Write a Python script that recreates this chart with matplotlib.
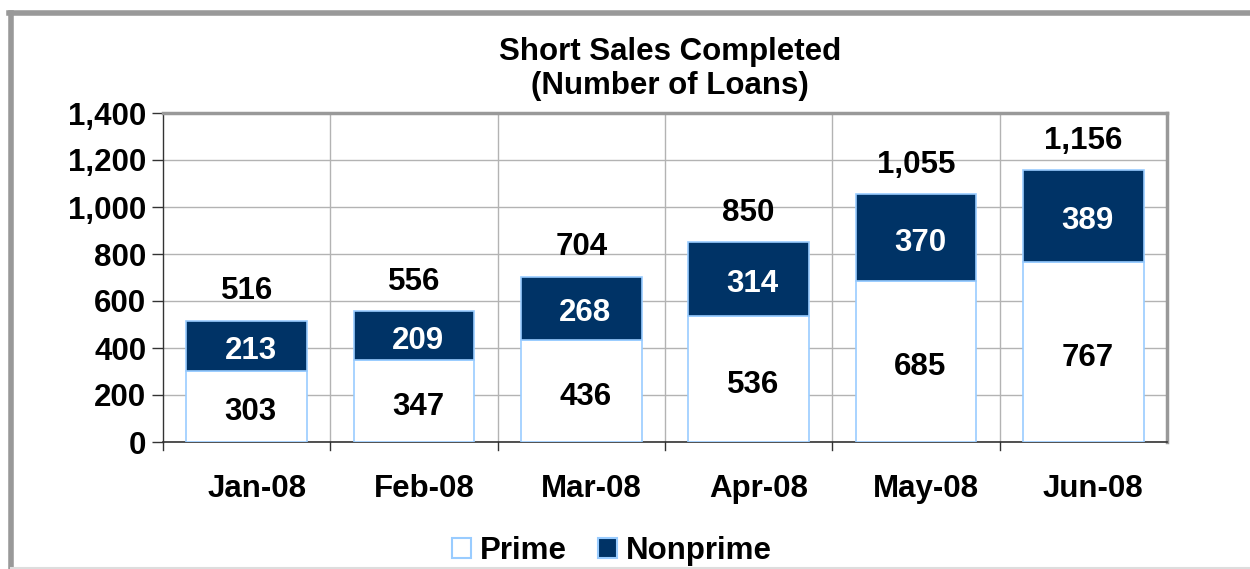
import matplotlib
matplotlib.use('Agg')
import matplotlib.pyplot as plt
from matplotlib.patches import Patch
from matplotlib.lines import Line2D
from matplotlib.transforms import ScaledTranslation
import numpy as np

months = ['Jan-08', 'Feb-08', 'Mar-08', 'Apr-08', 'May-08', 'Jun-08']
prime = [303, 347, 436, 536, 685, 767]
nonprime = [213, 209, 268, 314, 370, 389]
totals = [516, 556, 704, 850, 1055, 1156]
yticks = [0, 200, 400, 600, 800, 1000, 1200, 1400]

navy = '#003366'
edge = '#99ccff'
fs = 22.5

plt.rcParams['font.family'] = ['Liberation Sans', 'DejaVu Sans']
plt.rcParams['font.weight'] = 'bold'

fig = plt.figure(figsize=(12.5, 5.69), dpi=100)
W, H = 1250, 569
ax = fig.add_axes([163 / W, 1 - 442 / H, (1167 - 163) / W, (442 - 113) / H])

x = np.arange(len(months))
ax.bar(x, prime, width=0.72, color='white', edgecolor=edge, linewidth=1.2, zorder=3)
ax.bar(x, nonprime, width=0.72, bottom=prime, color=navy, edgecolor=edge, linewidth=1.2, zorder=3)

# labels inside bars sit a few pixels right of centre in the original
shift = ax.transData + ScaledTranslation(4 / 100, 0, fig.dpi_scale_trans)
for i in range(len(months)):
    ax.text(x[i], prime[i] / 2 - 25, f'{prime[i]:,}', ha='center', va='center',
            fontsize=fs, fontweight='bold', color='black', zorder=4, transform=shift)
    ax.text(x[i], prime[i] + nonprime[i] / 2 - 22, f'{nonprime[i]:,}', ha='center', va='center',
            fontsize=fs, fontweight='bold', color='white', zorder=4, transform=shift)
    ax.text(x[i], totals[i] + 125, f'{totals[i]:,}', ha='center', va='center',
            fontsize=fs, fontweight='bold', color='black', zorder=4)

ax.set_xlim(-0.5, len(months) - 0.5)
ax.set_ylim(0, 1400)
ax.set_yticks(yticks)
ax.set_yticklabels([f'{v:,}' for v in yticks], fontsize=fs, fontweight='bold')
ax.set_xticks(x)
ax.set_xticklabels(months, fontsize=fs, fontweight='bold')
ax.tick_params(axis='x', length=0, pad=23)
ax.tick_params(axis='y', length=8, width=1, color='#333333', pad=4, direction='out')
for lab in ax.get_xticklabels():
    lab.set_transform(lab.get_transform() + ScaledTranslation(10 / 100, 0, fig.dpi_scale_trans))

# category boundaries: vertical grid and downward ticks
bounds = np.arange(-0.5, len(months) + 0.5)
for b in bounds[1:-1]:
    ax.axvline(b, color='#b3b3b3', linewidth=1, zorder=1)
for b in bounds[:-1]:
    ax.plot([b, b], [0, -0.025], transform=ax.get_xaxis_transform(), color='#333333',
            linewidth=1, clip_on=False)
ax.yaxis.grid(True, color='#b3b3b3', linewidth=1, zorder=1)
ax.set_axisbelow(True)

for s in ['top', 'right']:
    ax.spines[s].set_color('#999999')
    ax.spines[s].set_linewidth(2.5)
ax.spines['left'].set_color('#333333')
ax.spines['bottom'].set_color('#333333')
ax.spines['left'].set_linewidth(1)
ax.spines['bottom'].set_linewidth(1.2)

fig.text(670 / W, 1 - 52 / H, 'Short Sales Completed', ha='center', va='center',
         fontsize=fs, fontweight='bold')
fig.text(670 / W, 1 - 86 / H, '(Number of Loans)', ha='center', va='center',
         fontsize=fs, fontweight='bold')

handles = [Patch(facecolor='white', edgecolor=edge, linewidth=1.5),
           Patch(facecolor=navy, edgecolor=edge, linewidth=1.5)]
fig.legend(handles, ['Prime', 'Nonprime'], loc='center', bbox_to_anchor=(612 / W, 1 - 551 / H),
           ncol=2, frameon=False, prop={'size': fs, 'weight': 'bold'},
           handlelength=0.6, handleheight=0.6, handletextpad=0.3, columnspacing=1.0,
           borderpad=0.1)

# outer frame
fig.add_artist(Line2D([11 / W, 11 / W], [0, 1 - 13 / H], transform=fig.transFigure,
                      color='#999999', linewidth=4))
fig.add_artist(Line2D([9 / W, 1], [1 - 13 / H, 1 - 13 / H], transform=fig.transFigure,
                      color='#999999', linewidth=4))
fig.add_artist(Line2D([11 / W, 1], [1.5 / H, 1.5 / H], transform=fig.transFigure,
                      color='#dddddd', linewidth=1.5))

fig.savefig('out.png', dpi=100)
